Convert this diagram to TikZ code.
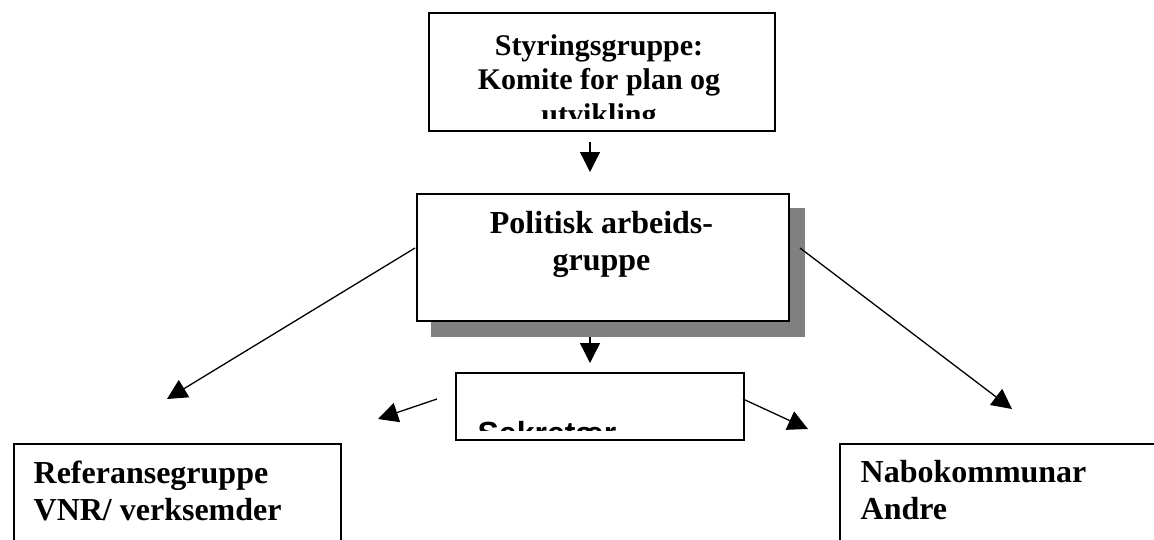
\documentclass[tikz,border=0pt]{standalone}
\usepackage{fontspec}
\setmainfont{Liberation Serif}
\newfontfamily\arialfont{Liberation Sans}
\usetikzlibrary{arrows.meta}

\begin{document}
\begin{tikzpicture}[
            x = 1pt, y = -1pt, % one unit = one pixel, y downwards
            > = {Triangle[length=20pt, width=20pt]}, % arrow head style
            line width = 1.3pt % line style
        ]

        \tikzstyle{every node}=[inner sep = 0pt]
        \tikzstyle{box}=[
            draw = black,
            line width = 1.7pt,
            fill = white,
            anchor = north west
        ]
        \tikzstyle{boxtext}=[
            font = \bfseries\fontsize{32}{37}\selectfont,
            align = left,
            anchor = base west
        ]

        \clip (0,0) rectangle (1154,539);

        % shadow of the working group
        \fill[black!50] (431,208) rectangle (805,337);

        \node[box, minimum width=346pt, minimum height=118pt] (styr) at (428,12) {};
        \node[box, minimum width=372pt, minimum height=127pt] (pol)  at (416,193) {};
        \node[box, minimum width=288pt, minimum height=67pt]  (sek)  at (455,372) {};
        \node[box, minimum width=327pt, minimum height=150pt] (ref)  at (13,443)  {};
        \node[box, minimum width=400pt, minimum height=150pt] (nabo) at (839,443) {};

        % the anchor base is the baseline of the last line
        \begin{scope}
            \clip (428,12) rectangle (774,118);
            \node[boxtext, align=center, anchor=base, font=\bfseries\fontsize{30}{34.5}\selectfont] (styrtext) at (599,124)
                {Styringsgruppe:\\Komite for plan og\\utvikling};
        \end{scope}

        \node[boxtext, align=center, anchor=base] (poltext) at (601.5,270) {Politisk arbeids-\\gruppe};

        \begin{scope}
            \clip (455,372) rectangle (743,430);
            \node[boxtext, font=\arialfont\bfseries\fontsize{32}{37}\selectfont] (sektext) at (477,444) {Sekretær};
        \end{scope}

        \node[boxtext] (reftext)  at (33,520)  {Referansegruppe\\VNR/ verksemder};
        \node[boxtext] (nabotext) at (860,519) {Nabokommunar\\Andre};

        % free ends of the arrows
        \coordinate (styr-out) at (590,142);
        \coordinate (pol-in)   at (590,172);
        \coordinate (pol-out)  at (590,337);
        \coordinate (sek-in)   at (590,363);
        \coordinate (pol-w)    at (415,248);
        \coordinate (pol-e)    at (800,248);
        \coordinate (ref-in)   at (167,399);
        \coordinate (nabo-in)  at (1012,409);
        \coordinate (sek-w)    at (437,399);
        \coordinate (sek-e)    at (743,399);
        \coordinate (left-in)  at (378,419);
        \coordinate (right-in) at (808,429);

        \draw[->] (styr-out) -- (pol-in);
        \draw[->] (pol-out) -- (sek-in);
        \draw[->] (pol-w) -- (ref-in);
        \draw[->] (pol-e) -- (nabo-in);
        \draw[->] (sek-w) -- (left-in);
        \draw[->] (sek-e) -- (right-in);
    \end{tikzpicture}
\end{document}
